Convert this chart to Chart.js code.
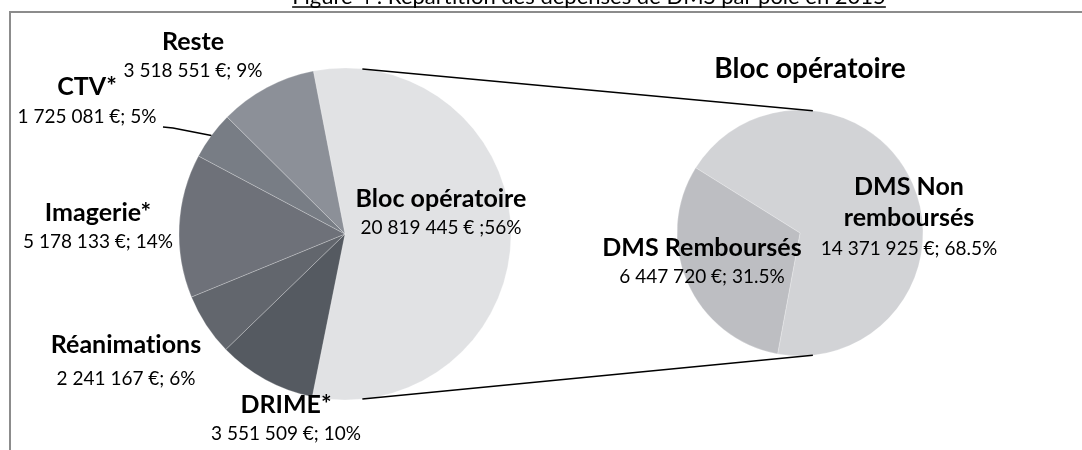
<!DOCTYPE html>
<html>
<head>
<meta charset="utf-8">
<script src="https://cdn.jsdelivr.net/npm/chart.js@4.4.1/dist/chart.umd.min.js"></script>
<style>
    body { margin: 0; background: #fff; }
    #wrap { position: relative; width: 1082px; height: 450px; overflow: hidden; }
    #wrap canvas { position: absolute; left: 0; top: 0; }
</style>
</head>
<body>
<div id="wrap">
    <canvas id="main" width="1082" height="450"></canvas>
    <canvas id="bloc" width="1082" height="450"></canvas>
</div>
<script>
// Répartition des dépenses de DMS par pôle (2015)
const poles = ['Bloc opératoire', 'DRIME*', 'Réanimations', 'Imagerie*', 'CTV*', 'Reste'];
const poleValues = [20819445, 3551509, 2241167, 5178133, 1725081, 3518551];
const poleValueLabels = ['20 819 445 € ;56%', '3 551 509 €; 10%', '2 241 167 €; 6%', '5 178 133 €; 14%', '1 725 081 €; 5%', '3 518 551 €; 9%'];

// détail du bloc opératoire
const blocParts = [['DMS Non', 'remboursés'], ['DMS Remboursés']];
const blocValues = [14371925, 6447720];
const blocValueLabels = ['14 371 925 €; 68.5%', '6 447 720 €; 31.5%'];

const titleText = 'Figure 4 : Répartition des dépenses de DMS par pôle en 2015';
const blocTitle = 'Bloc opératoire';

const poleColors = ['#e1e2e4', '#555a61', '#62666d', '#6e7179', '#787d85', '#8c9098'];
const blocColors = ['#d2d3d6', '#bdbec2'];

const FONT = 'Lato, "Open Sans", sans-serif';

// position des étiquettes par rapport au centre du camembert : [dx, dy nom, dy valeur]
const poleLabelPos = [[96, -35, -6], [-59, 171, 200], [-219, 111, 145], [-247, -21, 8], [-258, -147, -117], [-152, -192, -163]];
const blocLabelPos = [[109, -46, 16], [-98, 15, 44]];

function drawLabels(ctx, arc, names, values, pos) {
    ctx.save();
    ctx.fillStyle = '#000';
    ctx.textAlign = 'center';
    ctx.textBaseline = 'middle';
    ctx.letterSpacing = '0.01px'; // pas de ligature "ti"
    names.forEach((name, i) => {
        const [dx, dyName, dyVal] = pos[i];
        const lines = Array.isArray(name) ? name : [name];
        ctx.font = 'bold 25px ' + FONT;
        lines.forEach((l, k) => {
            ctx.fillText(l, arc.x + dx, arc.y + dyName + k * 31);
        });
        ctx.font = '19px ' + FONT;
        ctx.fillText(values[i], arc.x + dx, arc.y + dyVal);
    });
    ctx.restore();
}

const mainDecor = {
    id: 'mainDecor',
    beforeDraw(chart) {
        const ctx = chart.ctx;
        ctx.save();
        ctx.fillStyle = '#fff';
        ctx.fillRect(0, 0, chart.width, chart.height);
        // cadre
        ctx.strokeStyle = '#8c8c8c';
        ctx.lineWidth = 2;
        ctx.beginPath();
        ctx.moveTo(10, chart.height);
        ctx.lineTo(10, 12);
        ctx.lineTo(chart.width, 12);
        ctx.stroke();
        // titre souligné
        ctx.font = '22px ' + FONT;
        ctx.fillStyle = '#000';
        ctx.textAlign = 'center';
        ctx.textBaseline = 'alphabetic';
        ctx.fillText(titleText, 589, 4);
        const w = ctx.measureText(titleText).width;
        ctx.strokeStyle = '#000';
        ctx.lineWidth = 1.5;
        ctx.beginPath();
        ctx.moveTo(589 - w / 2, 7);
        ctx.lineTo(589 + w / 2, 7);
        ctx.stroke();
        ctx.restore();
    },
    afterDraw(chart) {
        const ctx = chart.ctx;
        const arcs = chart.getDatasetMeta(0).data;
        drawLabels(ctx, arcs[0], poles, poleValueLabels, poleLabelPos);
        // trait de rappel CTV
        const a = arcs[4];
        const mid = (a.startAngle + a.endAngle) / 2;
        ctx.save();
        ctx.strokeStyle = '#000';
        ctx.lineWidth = 1.5;
        ctx.beginPath();
        ctx.moveTo(a.x + Math.cos(mid) * a.outerRadius, a.y + Math.sin(mid) * a.outerRadius);
        ctx.lineTo(a.x - 172, a.y - 106);
        ctx.lineTo(a.x - 182, a.y - 107);
        ctx.stroke();
        ctx.restore();
    }
};

const mainChart = new Chart(document.getElementById('main').getContext('2d'), {
    type: 'pie',
    data: {
        labels: poles,
        datasets: [{
            data: poleValues,
            backgroundColor: poleColors,
            borderColor: 'rgba(255,255,255,0.3)',
            borderWidth: 0.8,
        }],
    },
    options: {
        responsive: false,
        animation: false,
        events: [],
        rotation: -11,
        radius: 166,
        layout: { padding: { left: 179, right: 571, top: 68, bottom: 50 } },
        plugins: { legend: { display: false }, tooltip: { enabled: false } },
    },
    plugins: [mainDecor],
});

const blocDecor = {
    id: 'blocDecor',
    afterDraw(chart) {
        const ctx = chart.ctx;
        const b = chart.getDatasetMeta(0).data[0];
        const m = mainChart.getDatasetMeta(0).data[0];
        // lignes de liaison entre les deux camemberts
        const ang = 6 * Math.PI / 180;
        ctx.save();
        ctx.strokeStyle = '#000';
        ctx.lineWidth = 1.5;
        ctx.beginPath();
        ctx.moveTo(m.x + Math.sin(ang) * m.outerRadius, m.y - Math.cos(ang) * m.outerRadius);
        ctx.lineTo(b.x + Math.sin(ang) * b.outerRadius, b.y - Math.cos(ang) * b.outerRadius);
        ctx.moveTo(m.x + Math.sin(ang) * m.outerRadius, m.y + Math.cos(ang) * m.outerRadius);
        ctx.lineTo(b.x + Math.sin(ang) * b.outerRadius, b.y + Math.cos(ang) * b.outerRadius);
        ctx.stroke();
        ctx.fillStyle = '#000';
        ctx.textAlign = 'center';
        ctx.textBaseline = 'middle';
        ctx.font = 'bold 28px ' + FONT;
        ctx.fillText(blocTitle, b.x + 10, b.y - 164);
        ctx.restore();
        drawLabels(ctx, b, blocParts, blocValueLabels, blocLabelPos);
    }
};

new Chart(document.getElementById('bloc').getContext('2d'), {
    type: 'pie',
    data: {
        labels: blocParts.map((p) => p.join(' ')),
        datasets: [{
            data: blocValues,
            backgroundColor: blocColors,
            borderColor: 'rgba(255,255,255,0.3)',
            borderWidth: 0.8,
        }],
    },
    options: {
        responsive: false,
        animation: false,
        events: [],
        rotation: -58,
        radius: 123,
        layout: { padding: { left: 677, right: 159, top: 110, bottom: 94 } },
        plugins: { legend: { display: false }, tooltip: { enabled: false } },
    },
    plugins: [blocDecor],
});
</script>
</body>
</html>
